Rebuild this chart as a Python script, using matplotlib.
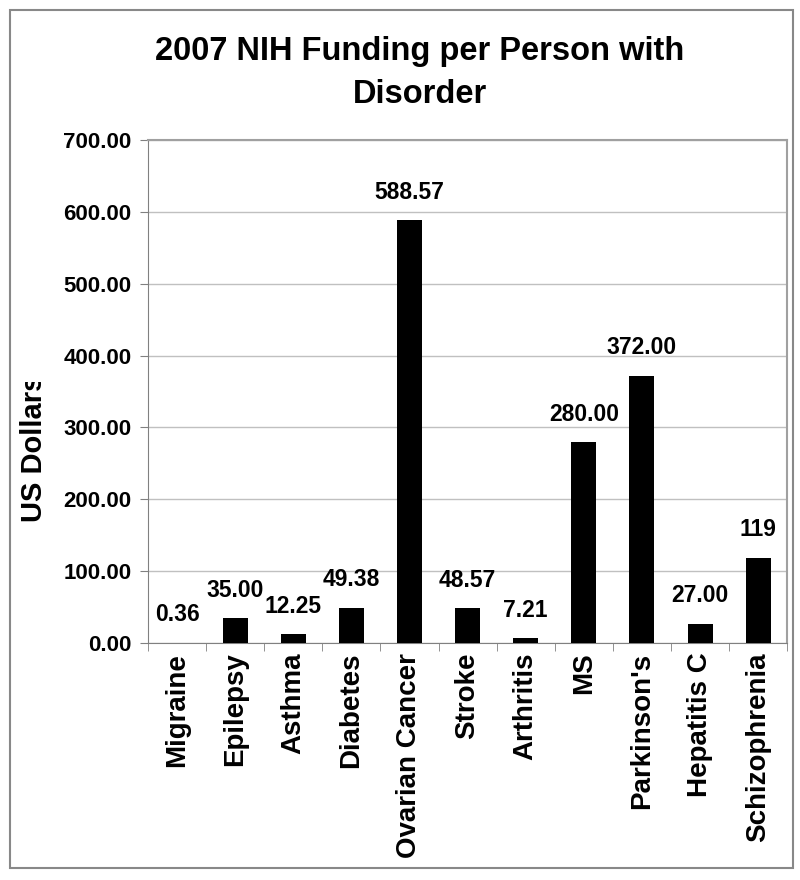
import numpy as np
import matplotlib.pyplot as plt
from matplotlib.patches import Rectangle
from matplotlib.transforms import Bbox, TransformedBbox

categories = ["Migraine", "Epilepsy", "Asthma", "Diabetes", "Ovarian Cancer", "Stroke",
              "Arthritis", "MS", "Parkinson's", "Hepatitis C", "Schizophrenia"]
funding = [0.36, 35.00, 12.25, 49.38, 588.57, 48.57, 7.21, 280.00, 372.00, 27.00, 119.0]
labels = ["0.36", "35.00", "12.25", "49.38", "588.57", "48.57", "7.21", "280.00", "372.00", "27.00", "119"]

plt.rcParams['font.family'] = ['Liberation Sans', 'DejaVu Sans']
plt.rcParams['font.weight'] = 'bold'

fig = plt.figure(figsize=(8, 8.8), dpi=100)
ax = fig.add_axes([0.185, 0.2693, 0.799, 0.5716])

# outer chart frame
fig.patches.append(Rectangle((0.0125, 0.0136), 0.979, 0.975, transform=fig.transFigure,
                             fill=False, edgecolor="#888888", linewidth=1.5))

x = np.arange(len(categories))
ax.bar(x, funding, width=0.43, color="black", zorder=3)

for xi, v, lab in zip(x, funding, labels):
    ax.annotate(lab, (xi, v), xytext=(0, 20), textcoords="offset points",
                ha="center", va="center", fontsize=16.5, fontweight="bold")

ax.set_xlim(-0.5, len(categories) - 0.5)
ax.set_ylim(0, 700)
ax.set_yticks(np.arange(0, 701, 100))
ax.set_yticklabels([f"{v:.2f}" for v in np.arange(0, 701, 100)], fontsize=16, fontweight="bold")
ax.set_xticks(x)
ax.set_xticklabels(categories, rotation=90, fontsize=20, fontweight="bold")
ax.set_xticks(np.arange(-0.5, len(categories)), minor=True)
ax.tick_params(axis="x", which="major", length=0, pad=7)
ax.tick_params(axis="x", which="minor", length=6, color="#808080")
ax.tick_params(axis="y", length=6, color="#808080", pad=6)

ax.grid(axis="y", color="#c0c0c0", linewidth=1, zorder=0)
for side in ["left", "bottom"]:
    ax.spines[side].set_color("#808080")
for side in ["top", "right"]:
    ax.spines[side].set_color("#a0a0a0")
    ax.spines[side].set_linewidth(1.5)

# y label is cut off at the top in the original
ylab = fig.text(0.042, 0.491, "US Dollars", rotation=90, ha="center", va="center",
                fontsize=21, fontweight="bold")
ylab.set_clip_box(TransformedBbox(Bbox([[0, 0], [0.2, 1 - 382 / 880]]), fig.transFigure))
ylab.set_clip_on(True)

fig.text(0.525, 0.9165, "2007 NIH Funding per Person with\nDisorder", ha="center", va="center",
         fontsize=23.5, fontweight="bold", linespacing=1.5)

fig.savefig("out.png", dpi=100)
